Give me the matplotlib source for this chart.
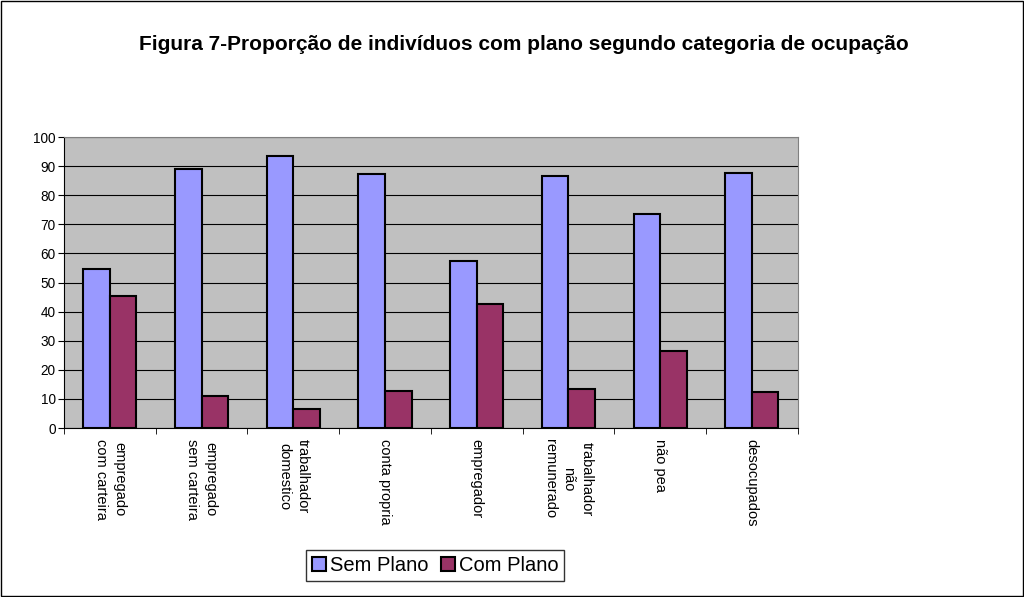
import matplotlib
matplotlib.use("Agg")
import matplotlib.pyplot as plt
import numpy as np
from matplotlib.patches import Rectangle

categories = ["empregado\ncom carteira", "empregado\nsem carteira", "trabalhador\ndomestico",
              "conta propria", "empregador", "trabalhador\nnão\nremunerado", "não pea", "desocupados"]
sem_plano = [54.7, 88.9, 93.5, 87.3, 57.5, 86.6, 73.5, 87.5]
com_plano = [45.3, 11.1, 6.5, 12.7, 42.5, 13.4, 26.5, 12.5]
series_names = ["Sem Plano", "Com Plano"]
yticks = list(range(0, 101, 10))

plt.rcParams['font.family'] = ['Liberation Sans', 'DejaVu Sans']

fig = plt.figure(figsize=(10.24, 5.97), dpi=100)
fig.patches.append(Rectangle((0.001, 0.001), 0.998, 0.998, transform=fig.transFigure,
                             fill=False, edgecolor='black', linewidth=1))
ax = fig.add_axes([0.0625, 0.283, 0.7165, 0.4875])
ax.set_facecolor('#C0C0C0')

x = np.arange(len(categories))
w = 0.29
ax.bar(x - w/2, sem_plano, w, color='#9999FF', edgecolor='black', linewidth=1.5, label=series_names[0], zorder=3)
ax.bar(x + w/2, com_plano, w, color='#993366', edgecolor='black', linewidth=1.5, label=series_names[1], zorder=3)

ax.set_xlim(-0.5, len(categories) - 0.5)
ax.set_ylim(0, 100)
ax.set_yticks(yticks)
ax.set_yticklabels([str(v) for v in yticks], fontsize=9.8)
ax.yaxis.grid(True, color='black', linewidth=0.8, zorder=1)
ax.set_axisbelow(True)

ax.set_xticks(x)
ax.set_xticklabels(categories, rotation=270, fontsize=10.5, va='top', ha='center',
                   multialignment='center', linespacing=1.4)
ax.tick_params(axis='x', length=0, pad=8)
ax.set_xticks(np.arange(len(categories) + 1) - 0.5, minor=True)
ax.tick_params(axis='x', which='minor', length=4, direction='out', color='black')
ax.tick_params(axis='y', length=4, direction='out', color='black', pad=2)

for s in ['top', 'right']:
    ax.spines[s].set_color('#808080')
for s in ['left', 'bottom']:
    ax.spines[s].set_color('black')

fig.text(0.512, 0.925, "Figura 7-Proporção de indivíduos com plano segundo categoria de ocupação",
         ha='center', va='center', fontsize=15, fontweight='bold')

leg = fig.legend(loc='center', bbox_to_anchor=(0.425, 0.052), ncol=2, fontsize=14.5,
                 frameon=True, fancybox=False, edgecolor='black', handlelength=0.7,
                 handleheight=0.7, handletextpad=0.2, columnspacing=0.6, borderpad=0.3)
leg.get_frame().set_linewidth(1)

fig.savefig("out.png", dpi=100)
